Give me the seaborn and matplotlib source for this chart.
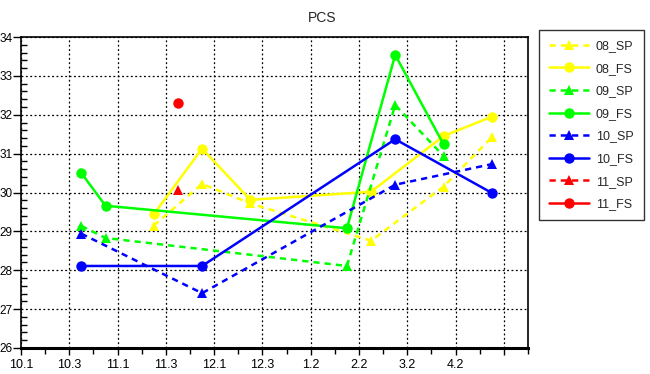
import matplotlib
matplotlib.use("Agg")
import matplotlib.pyplot as plt
import seaborn as sns
import pandas as pd
from matplotlib.ticker import MultipleLocator

# ---- data ----
tick_labels = ["10.1", "10.3", "11.1", "11.3", "12.1", "12.3", "1.2", "2.2", "3.2", "4.2", ""]

x_08 = [2.75, 3.75, 4.75, 7.25, 8.75, 9.75]
sp_08 = [29.15, 30.22, 29.72, 28.76, 30.15, 31.42]
fs_08 = [29.44, 31.13, 29.81, 30.02, 31.45, 31.95]

x_09 = [1.25, 1.75, 6.75, 7.75, 8.75]
sp_09 = [29.14, 28.83, 28.11, 32.25, 30.94]
fs_09 = [30.50, 29.66, 29.08, 33.54, 31.24]

x_10 = [1.25, 3.75, 7.75, 9.75]
sp_10 = [28.94, 27.41, 30.20, 30.73]
fs_10 = [28.11, 28.11, 31.37, 29.99]

x_11 = [3.25]
sp_11 = [30.07]
fs_11 = [32.30]

series = [
    ("08_SP", x_08, sp_08), ("08_FS", x_08, fs_08),
    ("09_SP", x_09, sp_09), ("09_FS", x_09, fs_09),
    ("10_SP", x_10, sp_10), ("10_FS", x_10, fs_10),
    ("11_SP", x_11, sp_11), ("11_FS", x_11, fs_11),
]
colors = {"08": "#FFFF00", "09": "#00FF00", "10": "#0000FF", "11": "#FF0000"}

rows = []
for name, xs, ys in series:
    for xv, yv in zip(xs, ys):
        rows.append({"series": name, "x": xv, "y": yv})
df = pd.DataFrame(rows)
order = [s[0] for s in series]

palette = {n: colors[n[:2]] for n in order}
dashes = {n: ((2.5, 2) if n.endswith("SP") else "") for n in order}
markers = {n: ("^" if n.endswith("SP") else "o") for n in order}

sns.set_style("white")
plt.rcParams["font.family"] = ["Liberation Sans", "DejaVu Sans"]

fig = plt.figure(figsize=(6.5, 3.74), dpi=100)
ax = fig.add_axes([21 / 650, 1 - 348 / 374, (528 - 21) / 650, (348 - 37) / 374])

sns.lineplot(data=df, x="x", y="y", hue="series", style="series", hue_order=order,
             style_order=order, palette=palette, dashes=dashes, markers=markers,
             sort=False, estimator=None, linewidth=1.8, markersize=7.5,
             markeredgewidth=0, ax=ax, legend="full")

ax.set_xlim(0, 10.5)
ax.set_ylim(26, 34)
ax.set_xticks(range(len(tick_labels)))
ax.set_xticklabels(tick_labels)
ax.xaxis.set_minor_locator(MultipleLocator(0.5))
ax.yaxis.set_major_locator(MultipleLocator(1))
ax.yaxis.set_minor_locator(MultipleLocator(0.2))
ax.tick_params(axis="x", which="major", direction="out", length=5, width=1,
               labelsize=9, color="black", labelcolor="black", pad=3, bottom=True)
ax.tick_params(axis="x", which="minor", direction="out", length=4, width=1,
               color="black", bottom=True)
ax.tick_params(axis="y", which="major", direction="out", length=5.5, width=1,
               labelsize=8.5, color="black", labelcolor="black", pad=0.5, left=True)
ax.tick_params(axis="y", which="minor", direction="in", length=4, width=1,
               color="black", left=True)
ax.grid(True, which="major", color="black", linestyle=(0, (1.5, 2)), linewidth=0.9)
ax.set_axisbelow(True)
for s in ax.spines.values():
    s.set_color("black")
    s.set_linewidth(1.2)
ax.spines["bottom"].set_linewidth(2.2)
ax.set_xlabel("")
ax.set_ylabel("")

fig.text(322 / 650, 1 - 18 / 374, "PCS", ha="center", va="center", fontsize=10)

handles, labels = ax.get_legend_handles_labels()
if ax.get_legend():
    ax.get_legend().remove()
leg = fig.legend(handles, labels, loc="upper left", bbox_to_anchor=(539 / 650, 1 - 30 / 374),
                 frameon=True, fancybox=False, edgecolor="black", fontsize=9,
                 handlelength=3.2, handletextpad=0.55, labelspacing=0.85,
                 borderpad=0.8, borderaxespad=0)
leg.get_frame().set_linewidth(1)

fig.savefig("out.png", dpi=100)
